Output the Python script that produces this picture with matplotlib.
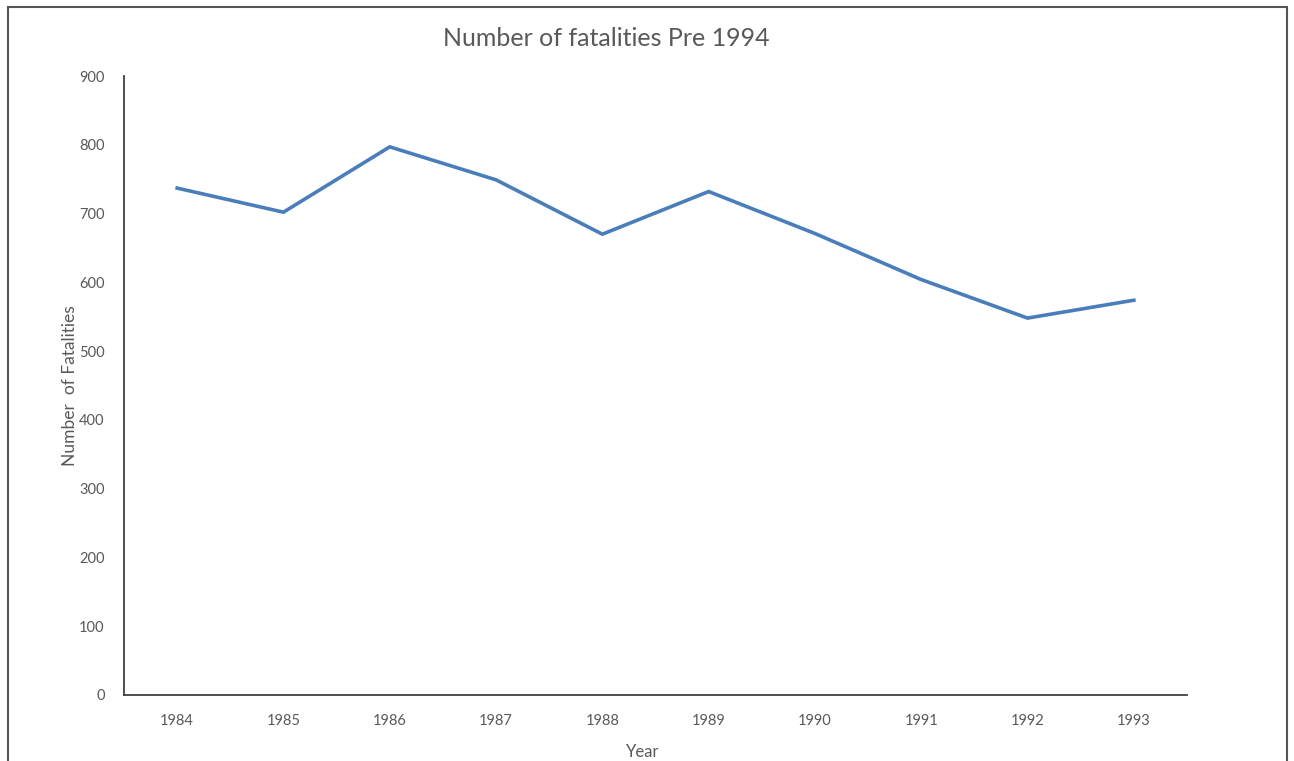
import matplotlib.pyplot as plt
from matplotlib.patches import Rectangle

years = ['1984', '1985', '1986', '1987', '1988', '1989', '1990', '1991', '1992', '1993']
fatalities = [737, 702, 797, 749, 670, 732, 671, 604, 548, 574]
y_ticks = [0, 100, 200, 300, 400, 500, 600, 700, 800, 900]

plt.rcParams['font.family'] = ['Lato', 'DejaVu Sans']

W, H = 1294, 761
fig = plt.figure(figsize=(W / 100, H / 100), dpi=100)

# outer chart border (bottom edge runs off the image)
fig.patches.append(Rectangle((8 / W, -0.05), (1287 - 8) / W, 1.05 - 7 / H,
                             transform=fig.transFigure, fill=False,
                             edgecolor='#555555', linewidth=1.5))

ax = fig.add_axes([124 / W, 1 - 695 / H, (1187 - 124) / W, (695 - 76) / H])
ax.plot(range(len(years)), fatalities, color='#4A7EBB', linewidth=2.6,
        solid_joinstyle='miter')

ax.set_xlim(-0.5, len(years) - 0.5)
ax.set_ylim(0, 900)
ax.set_yticks(y_ticks)
ax.set_xticks(range(len(years)))
ax.set_xticklabels(years)

for s in ['top', 'right']:
    ax.spines[s].set_visible(False)
for s in ['left', 'bottom']:
    ax.spines[s].set_color('#404040')
    ax.spines[s].set_linewidth(1.3)

ax.tick_params(axis='both', length=0, labelsize=10.5, labelcolor='#595959')
ax.tick_params(axis='x', pad=14)
ax.tick_params(axis='y', pad=14)

ax.set_xlabel('Year', fontsize=12, color='#595959')
ax.xaxis.set_label_coords((643 - 124) / (1187 - 124), -0.079)
ax.set_ylabel('Number  of Fatalities', fontsize=12.5, color='#595959', labelpad=1)

fig.text(606 / W, 1 - 38 / H, 'Number of fatalities Pre 1994', ha='center',
         va='center', fontsize=18, color='#595959')

fig.savefig('out.png', dpi=100)
